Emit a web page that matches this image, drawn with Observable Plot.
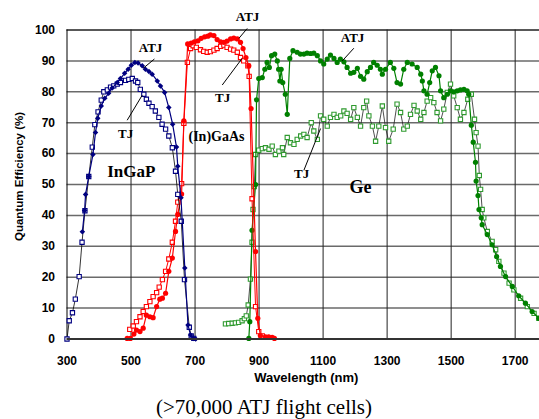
<!DOCTYPE html>
<html><head><meta charset="utf-8">
<script src="https://cdn.jsdelivr.net/npm/d3@7"></script>
<script src="https://cdn.jsdelivr.net/npm/@observablehq/plot@0.6"></script>
<style>
body{margin:0;background:#fff;}
#caption{width:539px;text-align:center;font-family:"Liberation Serif","Times New Roman",serif;font-size:21px;line-height:24px;margin-top:3px;padding-right:11px;box-sizing:border-box;color:#000;}
</style></head><body>
<div id="chart"></div>
<div id="caption">(&gt;70,000 ATJ flight cells)</div>
<script>
const xTicks = [300,500,700,900,1100,1300,1500,1700];
const yTicks = [0,10,20,30,40,50,60,70,80,90,100];

// [wavelength nm, QE %]
const ingapTJ = [[300,0],[307,5.9],[317,8.5],[326,12.9],[338,20.2],[347,31.3],[356,41.5],[368,52.6],[379,62.1],[387,69.4],[397,73.5],[407,77.3],[415,80],[426,80.6],[436,81.5],[446,81.9],[457,82.5],[467,83],[483,83.7],[493,84],[504,84.3],[514,83.5],[521,83],[529,80.8],[540,79.2],[548,77.6],[556,76.3],[566,75.2],[576,73.8],[587,71.7],[597,69.5],[608,67.9],[618,65.7],[629,61.9],[639,54.3],[646,46.8],[657,38.1],[667,19.2],[682,3.8],[688,1],[696,0.2]];
const ingapATJ = [[348,34.7],[355,41.6],[358,46.8],[368,52.6],[381,59.7],[389,66.8],[396,71.4],[407,75.4],[418,77.9],[430,79.5],[441,81.2],[457,83],[467,84.3],[480,86],[491,87.3],[501,88.6],[512,89.5],[522,89.3],[535,88.4],[545,87.3],[556,86.6],[566,85.7],[582,83.5],[592,81.9],[605,79.8],[618,74.9],[630,69.5],[642,62.1],[646,55.9],[656,45.7],[668,23],[678,4.5],[686,1.3],[696,0.2],[702,0]];
const gaasTJ = [[496,3.1],[507,4.2],[517,5.6],[528,7.2],[538,8.9],[548,10.5],[559,12.1],[569,13.7],[580,15],[588,16.8],[598,19.2],[608,21.9],[618,25.9],[629,31.3],[639,38.1],[646,44.3],[658,50.3],[665,69.8],[676,89.5],[686,94],[694,94.9],[704,94.4],[717,93.6],[727,93.1],[738,92.8],[748,93],[759,93.5],[769,94],[780,94.7],[790,95.1],[800,94.4],[811,93.8],[821,93.5],[832,92.8],[842,91.1],[852,90],[865,88.4],[869,85],[878,45.4],[889,10.5],[899,2.4],[910,1]];
const gaasATJ = [[488,0.2],[498,0.2],[509,1.6],[517,2.9],[528,2.4],[538,3.5],[548,7.7],[559,7.2],[569,6.9],[580,10.5],[590,12.9],[598,13.2],[608,14.8],[618,21.9],[629,26.2],[639,34.8],[646,40.3],[658,46.9],[665,70.6],[677,95.5],[688,95.8],[698,96.2],[709,96.5],[719,97.3],[730,97.8],[740,98],[748,98.4],[759,98.2],[769,96.9],[780,96.2],[790,96],[800,96.4],[811,97.1],[821,97.4],[832,97.1],[842,96],[850,94],[859,91.1],[868,88.4],[875,74.6],[889,28.3],[896,6.7],[904,1.1],[920,0.7],[930,0.7],[941,0.5],[948,0.2]];
const geTJ = [[795,4.9],[805,5],[816,5.1],[826,5.2],[836,5.4],[847,5.9],[854,6.6],[860,7.5],[866,11],[873,19.4],[878,31.3],[881,41.9],[885,49.3],[889,59.7],[899,61.1],[910,61.6],[920,61.9],[931,61.4],[941,62.4],[951,59.7],[962,60.8],[973,61.9],[977,59.7],[988,65.2],[998,63.5],[1009,63],[1019,64.6],[1030,65.7],[1040,66.2],[1050,65.2],[1063,70],[1071,67.3],[1082,64.6],[1092,72.2],[1102,71.1],[1113,68.9],[1123,71.7],[1134,72.7],[1144,71.7],[1155,72.2],[1165,73.8],[1175,73],[1186,71.1],[1196,74.9],[1207,71.7],[1217,68.9],[1227,74.9],[1236,77],[1243,72.2],[1254,68.9],[1264,64],[1274,68.9],[1285,75.4],[1295,68.4],[1305,64],[1319,67.9],[1331,76],[1342,73.3],[1352,67.9],[1363,68.9],[1373,72.7],[1384,75.6],[1394,73.8],[1405,71.1],[1415,73.3],[1425,77],[1436,78.1],[1446,76.5],[1456,73.3],[1467,70.6],[1477,74.4],[1488,79.8],[1498,82.5],[1508,78.7],[1519,74.9],[1529,71.1],[1540,73.3],[1552,77.6],[1563,79.2],[1573,71.1],[1578,66.8],[1584,62.4],[1588,52.9],[1592,48.4],[1597,41.9],[1602,39.2],[1613,34.8],[1628,31.6],[1639,28.9],[1649,25.1],[1665,21.3],[1681,18.1],[1696,15.9],[1717,13.2],[1738,10.5],[1759,8.3],[1774,6.7]];
const geATJ = [[868,0.2],[871,5.6],[878,35.2],[889,50],[892,77.4],[899,84.3],[910,84.6],[918,87.3],[925,89.5],[932,87.9],[939,91.7],[949,92.2],[957,90],[961,87.3],[965,83.5],[969,87.3],[974,83],[982,79.2],[988,72.7],[996,90.8],[1006,93.3],[1019,92.8],[1029,92.2],[1040,92.2],[1050,92.5],[1061,92.4],[1071,92.5],[1082,91.7],[1092,90],[1102,89],[1113,90.6],[1123,91.9],[1134,90.8],[1144,89.5],[1154,90.6],[1165,89.7],[1175,87.9],[1186,86],[1196,86.3],[1207,87.6],[1217,85],[1227,84.1],[1238,86.5],[1248,87.9],[1258,89.5],[1269,88.6],[1279,87.3],[1285,85.7],[1295,87.3],[1310,89.5],[1321,87.6],[1331,83],[1342,82.5],[1352,87.3],[1363,89.5],[1378,89],[1394,87.9],[1405,85.7],[1410,83.5],[1415,80.3],[1425,79.2],[1433,83],[1441,86.8],[1451,87.9],[1462,85.2],[1467,80.3],[1477,78.1],[1488,79.2],[1498,80.3],[1508,80],[1519,80.3],[1529,80.6],[1540,80.8],[1550,80.3],[1555,79.2],[1563,69.2],[1569,63.7],[1576,57.2],[1578,51.1],[1584,46.4],[1587,41.9],[1594,39.2],[1597,37],[1613,33.8],[1628,30.5],[1642,26.7],[1654,23.5],[1670,20.2],[1691,17],[1711,14],[1732,11.6],[1753,8.9],[1774,6.7]];

// annotations: text, x (nm), y (QE), font size
const labels = [
  {t:"ATJ", x:561, y:94.2, s:13},
  {t:"TJ", x:483, y:66.3, s:13},
  {t:"InGaP", x:501, y:54.3, s:17},
  {t:"(In)GaAs", x:767, y:65.6, s:14},
  {t:"ATJ", x:864, y:104.2, s:13},
  {t:"TJ", x:786, y:78, s:13},
  {t:"ATJ", x:1192, y:97.4, s:13},
  {t:"TJ", x:1033, y:53.3, s:13},
  {t:"Ge", x:1217, y:49.1, s:18}
];
const leaders = [
  [573,90.6,539,87.7],
  [488,70.8,535,78.9],
  [863,100.5,837,97.3],
  [785,82.2,847,90.8],
  [1196,94.1,1160,90],
  [1040,54.6,1092,68.1]
];

const navy = "#000080", red = "#ff0000", green = "#008000", lgreen = "#2f9a2f";
const X = d => d[0], Y = d => d[1];
const serif = "'Liberation Serif','Times New Roman',serif";

const chart = Plot.plot({
  width: 539, height: 392,
  marginTop: 29.5, marginBottom: 53.5, marginLeft: 66.5, marginRight: 0,
  x: {domain: [300, 1776], label: null},
  y: {domain: [0, 100], label: null},
  style: {fontFamily: "'Liberation Sans', Arial, sans-serif", fontSize: "12px", fontWeight: "bold", background: "white", overflow: "visible", color: "#000"},
  marks: [
    Plot.gridY(yTicks, {stroke: "#6a6a6a", strokeOpacity: 1, strokeWidth: 1.5}),
    Plot.gridX(xTicks.slice(1), {stroke: "#222", strokeOpacity: 1, strokeWidth: 1}),
    Plot.ruleY([100], {stroke: "#222", strokeWidth: 1.2}),
    Plot.ruleX([300], {stroke: "#000", strokeWidth: 1}),
    Plot.axisX(xTicks, {tickSize: 0, tickPadding: 17, tickFormat: d => String(d), fontWeight: "bold", fontSize: 12, label: null}),
    Plot.axisY(yTicks, {tickSize: 0, tickPadding: 12, tickFormat: d => String(d), fontWeight: "bold", fontSize: 12, label: null}),
    Plot.text(["Wavelength (nm)"], {text: d => d, frameAnchor: "bottom", dy: 39, dx: 3, fontSize: 13, fontWeight: "bold", textAnchor: "middle", lineAnchor: "middle"}),
    Plot.text(["Quantum Efficiency (%)"], {text: d => d, frameAnchor: "left", rotate: -90, dx: -47.5, dy: -8, fontSize: 11.5, fontWeight: "bold", textAnchor: "middle", lineAnchor: "middle"}),
    // Ge
    Plot.line(geTJ, {x: X, y: Y, stroke: "#222", strokeWidth: 0.8}),
    Plot.dot(geTJ, {x: X, y: Y, symbol: "square", r: 2.4, fill: "white", stroke: lgreen, strokeWidth: 1.1}),
    Plot.line(geATJ, {x: X, y: Y, stroke: green, strokeWidth: 1.2}),
    Plot.dot(geATJ, {x: X, y: Y, r: 2.6, fill: green, stroke: "none"}),
    // GaAs
    Plot.line(gaasTJ, {x: X, y: Y, stroke: red, strokeWidth: 1}),
    Plot.dot(gaasTJ, {x: X, y: Y, symbol: "square", r: 2.4, fill: "white", stroke: red, strokeWidth: 1.1}),
    Plot.line(gaasATJ, {x: X, y: Y, stroke: red, strokeWidth: 1.2}),
    Plot.dot(gaasATJ, {x: X, y: Y, r: 2.6, fill: red, stroke: "none"}),
    // InGaP
    Plot.line(ingapTJ, {x: X, y: Y, stroke: "#000", strokeWidth: 0.8}),
    Plot.dot(ingapTJ, {x: X, y: Y, symbol: "square", r: 2.4, fill: "white", stroke: navy, strokeWidth: 1.1}),
    Plot.line(ingapATJ, {x: X, y: Y, stroke: navy, strokeWidth: 1.2}),
    Plot.dot(ingapATJ, {x: X, y: Y, symbol: "diamond2", r: 2.5, fill: navy, stroke: "none"}),
    Plot.ruleY([0], {stroke: "#333", strokeWidth: 2}),
    // annotations
    Plot.link(leaders, {x1: d => d[0], y1: d => d[1], x2: d => d[2], y2: d => d[3], stroke: "#000", strokeWidth: 1}),
    Plot.text(labels, {x: "x", y: "y", text: "t", fontSize: d => d.s, fontFamily: serif, fontWeight: "bold", fill: "#000"})
  ]
});
document.getElementById("chart").appendChild(chart);
</script>
</body></html>
